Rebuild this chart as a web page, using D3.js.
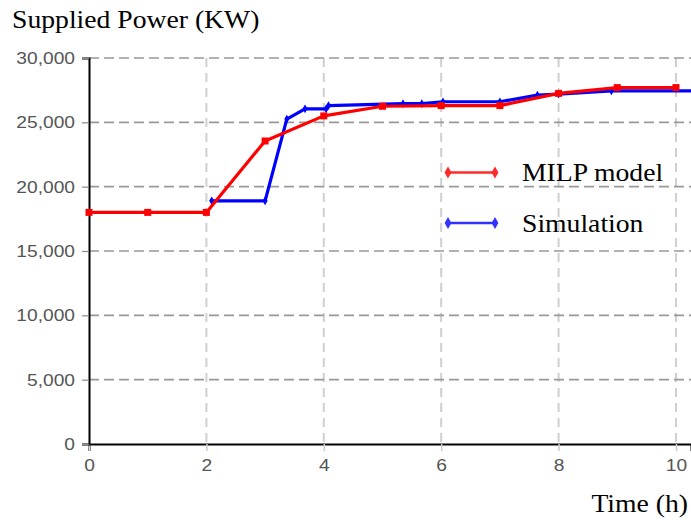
<!DOCTYPE html>
<html><head><meta charset="utf-8">
<script src="https://cdn.jsdelivr.net/npm/d3@7"></script>
<style>body{margin:0;background:#fff}svg{display:block}</style>
</head><body>
<svg id="c" width="691" height="520"></svg>
<script>
const milpTime = [0,1,2,3,4,5,6,7,8,9,10];
const milpPower = [18000,18000,18000,23550,25500,26250,26300,26300,27250,27700,27700];
const simTime = [2.09,3.0,3.37,3.68,4.04,4.08,5.35,5.67,6.03,7.0,7.64,8.0,8.9,10.26];
const simPower = [18900,18900,25250,26050,26050,26300,26450,26450,26600,26600,27120,27200,27450,27450];
const xTicks = [0,2,4,6,8,10];
const yTicks = [0,5000,10000,15000,20000,25000,30000];
const seriesNames = ["MILP model","Simulation"];
const seriesColors = ["#ff0000","#0000ff"];
const legendColors = ["#ff2a2a","#3333ff"];

const svg = d3.select("#c");
const x = d3.scaleLinear().domain([0,10.256]).range([89,691]);
const y = d3.scaleLinear().domain([0,30000]).range([444,58]);
const SX = 1.13;

// grid
svg.append("g").selectAll("line").data(xTicks.filter(d=>d>0)).join("line")
  .attr("x1",d=>x(d)).attr("x2",d=>x(d)).attr("y1",y(30000)).attr("y2",y(0))
  .attr("stroke","#cfcfcf").attr("stroke-width",2).attr("stroke-dasharray","9,6");
svg.append("g").selectAll("line").data(yTicks.filter(d=>d>0)).join("line")
  .attr("x1",x(0)).attr("x2",691).attr("y1",d=>y(d)).attr("y2",d=>y(d))
  .attr("stroke","#999").attr("stroke-width",1.6).attr("stroke-dasharray","10,5");

// axes
const gx = svg.append("g").attr("transform",`translate(0,${y(0)})`)
  .call(d3.axisBottom(x).tickValues(xTicks).tickSizeOuter(0).tickSize(7).tickPadding(8));
gx.select(".domain").attr("stroke","#000").attr("stroke-width",2);
gx.selectAll(".tick line").attr("stroke","#ccc").attr("stroke-width",1.5);
gx.selectAll(".tick text").attr("fill","#555").attr("font-family","'Liberation Sans',Arial,sans-serif")
  .attr("font-size",17).each(function(){
    const t=d3.select(this); const yy=+t.attr("y");
    t.attr("y",null).attr("transform",`translate(0,${yy}) scale(${SX},1)`);
  });

const gy = svg.append("g").attr("transform",`translate(${x(0)},0)`)
  .call(d3.axisLeft(y).tickValues(yTicks).tickFormat(d3.format(",")).tickSizeOuter(0).tickSize(7).tickPadding(7));
gy.select(".domain").attr("stroke","#000").attr("stroke-width",2);
gy.selectAll(".tick line").attr("stroke","#888").attr("stroke-width",1.2);
gy.selectAll(".tick text").attr("fill","#555").attr("font-family","'Liberation Sans',Arial,sans-serif")
  .attr("font-size",17).each(function(){
    const t=d3.select(this); const xx=+t.attr("x");
    t.attr("x",null).attr("transform",`translate(${xx},0) scale(${SX},1)`);
  });

// lines
const line = d3.line().x(d=>x(d[0])).y(d=>y(d[1]));
const simData = simTime.map((t,i)=>[t,simPower[i]]);
const milpData = milpTime.map((t,i)=>[t,milpPower[i]]);

svg.append("path").datum(simData).attr("d",line).attr("fill","none")
  .attr("stroke",seriesColors[1]).attr("stroke-width",3.2).attr("stroke-linejoin","round");
svg.append("g").selectAll("path").data(simData.slice(0,-1)).join("path")
  .attr("d",d3.symbol(d3.symbolDiamond,22))
  .attr("transform",d=>`translate(${x(d[0])},${y(d[1])})`).attr("fill",seriesColors[1]);

svg.append("path").datum(milpData).attr("d",line).attr("fill","none")
  .attr("stroke",seriesColors[0]).attr("stroke-width",3.2).attr("stroke-linejoin","round");
svg.append("g").selectAll("rect").data(milpData).join("rect")
  .attr("x",d=>x(d[0])-3.5).attr("y",d=>y(d[1])-3.5).attr("width",7).attr("height",7)
  .attr("fill",seriesColors[0]);

// legend
const leg = svg.append("g");
[172.5,223].forEach((ly,i)=>{
  leg.append("line").attr("x1",448).attr("x2",495).attr("y1",ly).attr("y2",ly)
    .attr("stroke",legendColors[i]).attr("stroke-width",2.6);
  [448,495].forEach(lx=>leg.append("path").attr("d",d3.symbol(d3.symbolDiamond,40))
    .attr("transform",`translate(${lx},${ly})`).attr("fill",legendColors[i]));
  leg.append("text").attr("transform",`translate(522,${ly+8.5}) scale(${SX},1)`)
    .attr("font-family","'Liberation Serif','Times New Roman',serif").attr("font-size",24.5)
    .attr("fill","#000").text(seriesNames[i]);
});

// titles
svg.append("text").attr("transform",`translate(12,28) scale(${SX},1)`)
  .attr("font-family","'Liberation Serif','Times New Roman',serif").attr("font-size",24.5)
  .text("Supplied Power (KW)");
svg.append("text").attr("transform",`translate(688,512) scale(${SX},1)`).attr("text-anchor","end")
  .attr("font-family","'Liberation Serif','Times New Roman',serif").attr("font-size",24.5)
  .text("Time (h)");
</script>
</body></html>
